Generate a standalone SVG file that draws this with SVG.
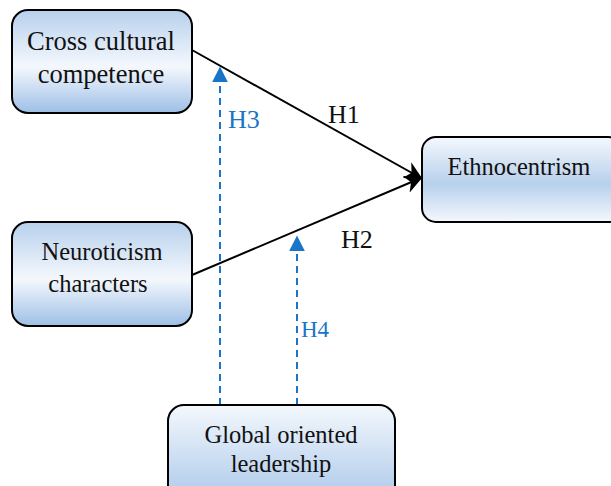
<svg xmlns="http://www.w3.org/2000/svg" width="611" height="486" viewBox="0 0 611 486">
<defs>
<linearGradient id="g1" x1="0" y1="0" x2="0" y2="1">
<stop offset="0" stop-color="#b7d0ec"/>
<stop offset="0.55" stop-color="#f4f8fd"/>
<stop offset="1" stop-color="#9dbfe6"/>
</linearGradient>
<linearGradient id="g2" x1="0" y1="0" x2="0" y2="1">
<stop offset="0" stop-color="#f4f8fd"/>
<stop offset="0.55" stop-color="#b7d0ec"/>
<stop offset="1" stop-color="#f4f8fd"/>
</linearGradient>
<linearGradient id="g3" x1="0" y1="0" x2="0" y2="1">
<stop offset="0" stop-color="#f4f8fd"/>
<stop offset="1" stop-color="#a9c7e9"/>
</linearGradient>
<marker id="ab" viewBox="0 0 10 10" refX="9" refY="5" markerWidth="9" markerHeight="9" orient="auto" markerUnits="strokeWidth">
<path d="M0,0 L10,5 L0,10 L3,5 z" fill="#000"/>
</marker>
<marker id="au" viewBox="0 0 10 10" refX="9" refY="5" markerWidth="8" markerHeight="8" orient="auto" markerUnits="strokeWidth">
<path d="M0,0 L10,5 L0,10 z" fill="#1a75c8"/>
</marker>
</defs>
<style>
.box{stroke:#000;stroke-width:2}
.t{fill:#111;text-anchor:middle;font-family:"Liberation Serif",serif}
.h{font-family:"Liberation Serif",serif}
.blk{stroke:#000;stroke-width:2;fill:none}
.dsh{stroke:#1a75c8;stroke-width:2;stroke-dasharray:7,5;fill:none}
</style>
<g id="connectors">
<line class="blk" x1="192" y1="50" x2="421" y2="178" marker-end="url(#ab)"/>
<line class="blk" x1="192" y1="275" x2="421" y2="178" marker-end="url(#ab)"/>
<line class="dsh" x1="220" y1="405" x2="220" y2="68" marker-end="url(#au)"/>
<line class="dsh" x1="297" y1="405" x2="297" y2="237" marker-end="url(#au)"/>
<text class="h" font-size="26" x="328" y="123" fill="#111">H1</text>
<text class="h" font-size="26" x="341" y="248" fill="#111">H2</text>
<text class="h" font-size="26" x="228" y="128" fill="#1a75c8">H3</text>
<text class="h" font-size="23" x="301" y="337" fill="#1a75c8">H4</text>
</g>
<g id="n1">
<rect class="box" x="12" y="10" width="180" height="103" rx="16" fill="url(#g1)"/>
<text class="t" x="101" y="50" font-size="26.5">Cross cultural</text>
<text class="t" x="101" y="83" font-size="26.5">competence</text>
</g>
<g id="n2">
<rect class="box" x="422" y="137" width="200" height="85" rx="14" fill="url(#g2)"/>
<text class="t" x="519" y="175" font-size="24.5">Ethnocentrism</text>
</g>
<g id="n3">
<rect class="box" x="12" y="222" width="180" height="104" rx="16" fill="url(#g1)"/>
<text class="t" x="102" y="260" font-size="24.5">Neuroticism</text>
<text class="t" x="98" y="292" font-size="24.5">characters</text>
</g>
<g id="n4">
<rect class="box" x="168" y="405" width="227" height="100" rx="16" fill="url(#g3)"/>
<text class="t" x="281" y="443" font-size="24.5">Global oriented</text>
<text class="t" x="281" y="472" font-size="24.5">leadership</text>
</g>
</svg>
